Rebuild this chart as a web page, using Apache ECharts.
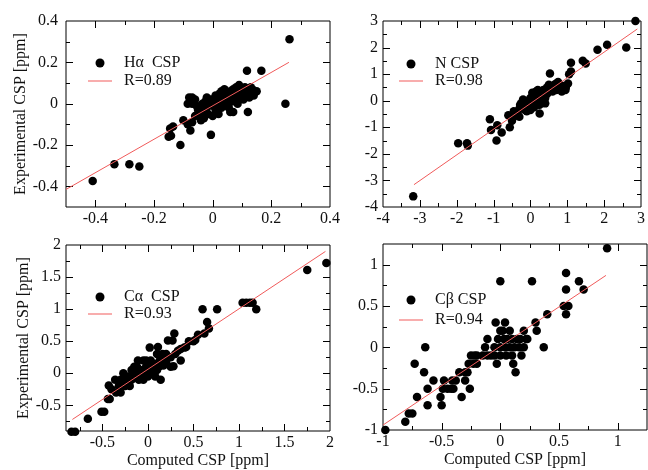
<!DOCTYPE html>
<html>
<head>
<meta charset="utf-8">
<script src="https://cdn.jsdelivr.net/npm/echarts@6/dist/echarts.min.js"></script>
<style>
  html, body { margin: 0; padding: 0; background: #fff; }
  #chart { width: 648px; height: 470px; }
</style>
</head>
<body>
<div id="chart"></div>
<script>
// 四个面板的散点数据 [computed, experimental]
const haPoints = [
  [0.262,0.312],[0.248,0.0],[0.166,0.159],[0.117,0.159],[0.12,-0.04],[-0.006,-0.151],[-0.11,-0.2],
  [-0.25,-0.304],[-0.284,-0.293],[-0.335,-0.293],[-0.409,-0.374],
  [-0.15,-0.16],[-0.142,-0.155],[-0.145,-0.12],[-0.135,-0.11],[-0.1,-0.08],[-0.076,-0.13],[-0.085,-0.1],[-0.07,-0.09],
  [-0.08,0.03],[-0.07,0.03],[-0.06,0.02],[-0.085,0.0],[-0.07,0.0],[-0.055,-0.01],
  [-0.05,-0.03],[-0.045,-0.05],[-0.04,-0.02],[-0.035,0.0],[-0.03,-0.04],[-0.03,-0.07],[-0.025,0.01],[-0.02,-0.02],
  [-0.015,-0.05],[-0.01,0.0],[-0.005,0.02],[0.0,-0.01],[0.0,-0.06],[0.005,0.01],[0.01,-0.03],[0.015,0.03],[0.02,0.0],
  [0.02,-0.05],[0.025,0.05],[0.03,0.02],[0.03,-0.02],[0.035,0.04],[0.04,0.0],[0.04,0.07],[0.045,0.03],[0.05,0.05],
  [0.05,0.01],[0.055,-0.02],[0.06,0.06],[0.06,0.03],[0.06,-0.04],[0.065,0.01],[0.07,0.07],[0.07,0.04],[0.07,-0.04],
  [0.075,0.02],[0.08,0.08],[0.08,0.05],[0.085,0.0],[0.09,0.09],[0.09,0.06],[0.095,0.03],[0.1,0.07],[0.1,0.04],
  [0.105,0.02],[0.11,0.08],[0.115,0.06],[0.12,0.05],[0.13,0.08],[0.135,0.07],[0.14,0.04],[0.15,0.06],[0.125,0.03],
  [-0.06,-0.06],[-0.04,-0.08],[0.01,0.04],[-0.02,0.03],[0.03,0.06],[0.05,-0.01],[0.02,0.02]
];
const nPoints = [
  [2.85,3.0],[2.6,2.0],[2.08,2.11],[1.82,1.92],[1.42,1.5],[1.5,1.4],[1.1,1.43],[1.1,1.1],[1.05,1.0],[0.53,1.02],
  [1.02,0.65],[0.96,0.5],[0.95,0.4],[0.85,0.35],[0.8,0.6],[0.9,0.55],
  [0.25,-0.48],[-3.18,-3.6],[-1.96,-1.6],[-1.72,-1.6],[-1.7,-1.69],[-1.1,-0.7],[-1.07,-1.1],[-0.92,-1.5],[-0.78,-1.2],
  [-0.9,-0.92],[-0.56,-1.0],[-0.6,-0.55],[-0.45,-0.6],[-0.5,-0.75],[-0.4,-0.5],[-0.3,-0.3],[-0.28,-0.15],[-0.2,-0.2],
  [-0.15,-0.05],[-0.1,-0.3],[-0.05,0.0],[0.0,-0.1],[0.0,0.1],[0.05,0.3],[0.05,-0.2],[0.1,0.05],[0.1,0.2],[0.15,-0.05],
  [0.15,0.15],[0.2,0.25],[0.2,-0.15],[0.25,0.1],[0.3,0.3],[0.3,0.05],[0.35,0.2],[0.35,0.4],[0.4,0.35],[0.4,0.1],
  [0.45,0.45],[0.45,0.25],[0.5,0.4],[0.5,0.6],[0.55,0.5],[0.6,0.55],[0.65,0.6],[0.7,0.65],[0.75,0.7],[-0.35,-0.45],
  [-0.25,-0.1],[-0.15,-0.35],[-0.05,-0.2],[0.05,0.05],[0.15,0.35],[0.25,0.3],[0.35,0.0],[0.0,-0.35],[-0.1,-0.4],
  [0.25,-0.15],[0.4,-0.1],[-0.2,0.05],[0.1,-0.25],[0.6,0.35],[0.7,0.4],[-0.45,-0.4],[0.2,0.4],[0.3,0.15],[0.45,0.5],[-0.3,-0.6]
];
const caPoints = [
  [1.96,1.72],[1.75,1.61],[1.04,1.1],[1.08,1.1],[1.12,1.1],[1.15,1.1],[1.19,1.0],[0.6,1.0],[0.76,1.0],[0.65,0.8],
  [0.67,0.7],[0.62,0.62],[0.55,0.6],[0.5,0.5],[0.45,0.5],[0.29,0.62],[0.22,0.51],[0.27,0.51],[0.42,0.41],[0.36,0.38],
  [0.36,0.2],[0.28,0.11],[0.16,0.3],[0.11,0.41],[0.02,0.4],[-0.11,0.2],[-0.05,0.2],[0.3,0.3],[0.33,0.35],[0.2,0.3],
  [-0.84,-0.91],[-0.8,-0.91],[-0.66,-0.71],[-0.51,-0.6],[-0.48,-0.6],[-0.44,-0.4],[-0.42,-0.4],[-0.43,-0.19],
  [-0.36,-0.1],[-0.3,-0.1],[-0.27,0.0],[-0.35,-0.3],[-0.3,-0.3],[-0.25,-0.2],[-0.28,-0.2],[-0.22,-0.1],[-0.2,-0.2],
  [-0.18,-0.1],[-0.15,0.0],[-0.15,0.1],[-0.12,0.0],[-0.1,-0.1],[-0.08,0.05],[-0.05,-0.1],[-0.05,0.0],[-0.02,0.1],
  [0.0,0.05],[0.0,-0.05],[0.02,0.0],[0.05,0.1],[0.05,0.0],[0.07,0.15],[0.08,-0.05],[0.1,0.05],[0.1,0.3],[0.12,0.1],
  [0.14,-0.1],[0.15,0.2],[0.17,0.12],[0.2,0.18],[0.25,0.1],[0.25,0.25],[-0.12,0.1],[-0.18,0.05],[-0.25,-0.1],
  [-0.32,-0.2],[-0.4,-0.25],[0.03,0.2],[0.07,0.03],[-0.07,-0.05],[0.13,0.2],[-0.02,0.2],[-0.22,-0.05],[0.4,0.4],[0.52,0.52]
];
const cbPoints = [
  [0.91,1.2],[0.56,0.9],[0.67,0.8],[0.71,0.7],[0.56,0.7],[0.54,0.5],[0.58,0.5],[0.56,0.4],[0.4,0.4],[0.3,0.3],
  [0.31,0.2],[0.37,0.0],[0.23,0.1],[0.27,0.8],[0.0,0.8],[-0.04,0.3],[0.04,0.3],
  [-0.64,0.0],[-0.73,-0.2],[-0.65,-0.3],[-0.57,-0.4],[-0.62,-0.5],[-0.62,-0.7],[-0.71,-0.6],[-0.78,-0.8],[-0.75,-0.8],
  [-0.81,-0.9],[-0.98,-1.0],[-0.49,-0.5],[-0.51,-0.6],[-0.5,-0.7],[-0.41,-0.4],[-0.38,-0.4],[-0.45,-0.5],[-0.42,-0.5],
  [-0.4,-0.5],[-0.33,-0.6],[-0.26,-0.5],[-0.3,-0.3],[-0.28,-0.3],[-0.27,-0.2],[-0.23,-0.2],[-0.2,-0.2],[-0.25,-0.1],
  [-0.2,-0.1],[-0.15,-0.1],[-0.11,-0.1],[-0.11,0.1],[-0.08,-0.1],[-0.05,0.0],[-0.05,-0.1],[-0.03,-0.2],[0.0,0.0],
  [0.0,-0.1],[0.0,0.2],[0.02,0.2],[0.04,0.0],[0.05,-0.1],[0.06,0.1],[0.08,0.0],[0.08,0.2],[0.1,0.1],[0.1,-0.1],
  [0.11,-0.2],[0.13,-0.3],[0.12,0.0],[0.14,0.1],[0.16,0.0],[0.17,0.1],[0.18,-0.1],[0.2,0.0],[0.2,0.2],[0.22,0.1],
  [-0.48,-0.4],[-0.35,-0.3],[-0.02,0.1],[0.03,0.1],[-0.13,0.0],[-0.22,-0.1],[-0.3,-0.4]
];

// 拟合直线端点
const haFit = [[-0.5,-0.415],[0.26,0.2]];
const nFit = [[-3.16,-3.16],[2.9,2.7]];
const caFit = [[-0.83,-0.72],[1.95,1.9]];
const cbFit = [[-1,-0.94],[0.9,0.87]];

// 图例文字
const legendNames = ['H\u03b1  CSP', 'N CSP', 'C\u03b1  CSP', 'C\u03b2 CSP'];
const fitNames = ['R=0.89', 'R=0.98', 'R=0.93', 'R=0.94'];

// 刻度标签 / 主刻度 / 次刻度 (边框上的刻度不画)
const haLabels = [-0.4,-0.2,0,0.2,0.4], haMajor = [-0.4,-0.2,0,0.2], haMinor = [-0.3,-0.1,0.1,0.3];
const nLabels = [-4,-3,-2,-1,0,1,2,3], nMajor = [-3,-2,-1,0,1,2], nMinor = [-3.5,-2.5,-1.5,-0.5,0.5,1.5,2.5];
const caLabels = [-0.5,0,0.5,1,1.5,2], caMajor = [-0.5,0,0.5,1,1.5], caMinor = [-0.75,-0.25,0.25,0.75,1.25,1.75];
const cbLabels = [-1,-0.5,0,0.5,1], cbMajor = [-0.5,0,0.5,1], cbMinor = [-0.75,-0.25,0.25,0.75];

const FONT = 'Liberation Serif';
const FIT_COLOR = '#f05a5a';
const MAJOR_LEN = 7, MINOR_LEN = 4;

const panels = [
  { pts: haPoints, fit: haFit, x: [-0.5,0.4], y: [-0.5,0.4], t: [haLabels,haMajor,haMinor],
    left: 66, top: 21, xName: '', yName: 'Experimental CSP [ppm]', yMargin: 8, lg: [83,50,2] },
  { pts: nPoints, fit: nFit, x: [-4,3], y: [-4,3], t: [nLabels,nMajor,nMinor],
    left: 383, top: 21, xName: '', yName: '', yMargin: 5, lg: [394,51,1] },
  { pts: caPoints, fit: caFit, x: [-0.9,2], y: [-0.9,2], t: [caLabels,caMajor,caMinor],
    left: 66, top: 245, xName: 'Computed CSP [ppm]', yName: 'Experimental CSP [ppm]', yMargin: 5, lg: [83,284,1] },
  { pts: cbPoints, fit: cbFit, x: [-1,1.25], y: [-1,1.25], t: [cbLabels,cbMajor,cbMinor],
    left: 383, top: 244, xName: 'Computed CSP [ppm]', yName: '', yMargin: 5, lg: [394,287,4] }
];

// 四边朝内的刻度：用 custom 系列按坐标轴换算位置
function renderTicks(params, api) {
  const cs = params.coordSys;
  const v = api.value(0), onX = api.value(1) === 1;
  const len = api.value(2) === 1 ? MAJOR_LEN : MINOR_LEN;
  const style = { stroke: '#000', lineWidth: 1 };
  if (onX) {
    const px = Math.round(api.coord([v, 0])[0]) + 0.5;
    const yb = cs.y + cs.height, yt = cs.y;
    return { type: 'group', children: [
      { type: 'line', shape: { x1: px, y1: yb, x2: px, y2: yb - len }, style: style },
      { type: 'line', shape: { x1: px, y1: yt, x2: px, y2: yt + len }, style: style }
    ] };
  }
  const py = Math.round(api.coord([0, v])[1]) + 0.5;
  const xl = cs.x, xr = cs.x + cs.width;
  return { type: 'group', children: [
    { type: 'line', shape: { x1: xl, y1: py, x2: xl + len, y2: py }, style: style },
    { type: 'line', shape: { x1: xr, y1: py, x2: xr - len, y2: py }, style: style }
  ] };
}

const textStyle = { color: '#111', fontFamily: FONT, fontSize: 16 };
const grids = [], xAxes = [], yAxes = [], series = [], legends = [];

panels.forEach((p, i) => {
  grids.push({ left: p.left, top: p.top, width: 264, height: 186, show: true, borderColor: '#000', borderWidth: 1 });
  xAxes.push({
    type: 'value', gridIndex: i, min: p.x[0], max: p.x[1],
    axisLine: { show: false, onZero: false }, axisTick: { show: false }, splitLine: { show: false },
    axisLabel: Object.assign({ customValues: p.t[0].slice(), margin: 4 }, textStyle),
    name: p.xName, nameLocation: 'middle', nameGap: 22, nameTextStyle: textStyle
  });
  yAxes.push({
    type: 'value', gridIndex: i, min: p.y[0], max: p.y[1],
    axisLine: { show: false, onZero: false }, axisTick: { show: false }, splitLine: { show: false },
    axisLabel: Object.assign({ customValues: p.t[0].slice(), margin: p.yMargin }, textStyle),
    name: p.yName, nameLocation: 'middle', nameGap: 34, nameTextStyle: textStyle
  });

  // 刻度数据: [值, 1=x轴/0=y轴, 1=主刻度/0=次刻度]
  const tickData = [];
  [1, 0].forEach(onX => {
    p.t[1].forEach(v => tickData.push([v, onX, 1]));
    p.t[2].forEach(v => tickData.push([v, onX, 0]));
  });
  series.push({
    name: 'ticks' + i, type: 'custom', xAxisIndex: i, yAxisIndex: i, silent: true,
    renderItem: renderTicks, data: tickData, encode: { x: 0 }, clip: false, z: 1
  });
  series.push({
    name: legendNames[i], type: 'scatter', xAxisIndex: i, yAxisIndex: i,
    data: p.pts, symbolSize: 8.5, clip: false, itemStyle: { color: '#000', opacity: 1 }, z: 2
  });
  series.push({
    name: fitNames[i], type: 'line', xAxisIndex: i, yAxisIndex: i,
    data: p.fit, symbol: 'none', itemStyle: { color: FIT_COLOR }, lineStyle: { color: FIT_COLOR, width: 1 }, z: 3
  });
  legends.push({
    left: p.lg[0], top: p.lg[1], orient: 'vertical', itemWidth: 24, itemHeight: 9, itemGap: p.lg[2],
    selectedMode: false,
    data: [
      { name: legendNames[i], icon: 'circle', itemStyle: { color: '#000', opacity: 1 } },
      { name: fitNames[i], icon: 'path://M0,0 L24,0 L24,1 L0,1 Z', itemStyle: { color: FIT_COLOR } }
    ],
    textStyle: { color: '#111', fontFamily: FONT, fontSize: 16, lineHeight: 16, padding: [0, 0, 0, 7] }
  });
});

const chart = echarts.init(document.getElementById('chart'));
chart.setOption({
  animation: false,
  grid: grids,
  xAxis: xAxes,
  yAxis: yAxes,
  legend: legends,
  series: series
});
</script>
</body>
</html>
